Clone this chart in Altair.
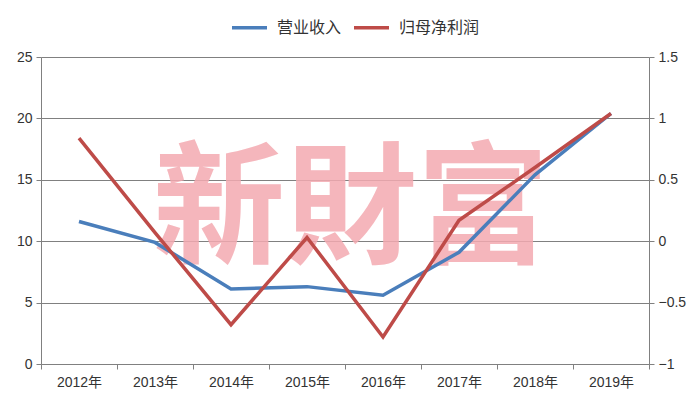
import altair as alt
import pandas as pd

years = ["2012年", "2013年", "2014年", "2015年", "2016年", "2017年", "2018年", "2019年"]
revenue = [11.6, 9.9, 6.1, 6.3, 5.6, 9.1, 15.4, 20.4]
profit = [0.84, 0.07, -0.68, 0.03, -0.78, 0.17, 0.60, 1.04]
series_names = ["营业收入", "归母净利润"]
left_ticks = [0, 5, 10, 15, 20, 25]
right_ticks = [-1, -0.5, 0, 0.5, 1, 1.5]
watermark = "新財富"

rev_df = pd.DataFrame({"year": years, "value": revenue, "series": series_names[0]})
pro_df = pd.DataFrame({"year": years, "value": profit, "series": series_names[1]})
wm_df = pd.DataFrame({"t": [watermark]})

FONT = "Liberation Sans, Noto Sans CJK SC"
GRAY = "#808080"
TXT = "#333333"

color = alt.Color(
    "series:N",
    scale=alt.Scale(domain=series_names, range=["#4a7ebb", "#be4b48"]),
    legend=alt.Legend(
        title=None, orient="none", direction="horizontal",
        legendX=189, legendY=-49,
        symbolType="stroke", symbolSize=1225, symbolStrokeWidth=3.5,
        labelFont="Noto Sans CJK SC", labelFontSize=16, labelColor=TXT,
        columnPadding=5, labelOffset=8,
    ),
)

x = alt.X(
    "year:N", sort=years, title=None,
    scale=alt.Scale(paddingInner=0, paddingOuter=0),
    axis=alt.Axis(
        tickBand="extent", labelAngle=0, domainColor=GRAY, tickColor=GRAY,
        tickSize=5, labelPadding=6, labelFont=FONT, labelFontSize=14,
        labelColor=TXT, grid=False,
    ),
)

wm = alt.Chart(wm_df).mark_text(
    font="Noto Sans CJK TC", fontSize=132, fontWeight="bold",
    color="#f4aab1", opacity=0.85, align="center", baseline="middle",
).encode(x=alt.value(310), y=alt.value(156), text="t:N")

left = alt.Chart(rev_df).mark_line(strokeWidth=3.5).encode(
    x=x,
    y=alt.Y(
        "value:Q", title=None,
        scale=alt.Scale(domain=[0, 25], nice=False),
        axis=alt.Axis(
            values=left_ticks, orient="left", grid=True, gridColor=GRAY,
            gridWidth=1.2, domainColor=GRAY, tickColor=GRAY, tickSize=5,
            labelPadding=4, labelFont=FONT, labelFontSize=14, labelColor=TXT,
            minExtent=28, maxExtent=28,
        ),
    ),
    color=color,
)

right = alt.Chart(pro_df).mark_line(strokeWidth=3.5).encode(
    x=x,
    y=alt.Y(
        "value:Q", title=None,
        scale=alt.Scale(domain=[-1, 1.5], nice=False),
        axis=alt.Axis(
            values=right_ticks, orient="right", grid=False, format="~g",
            domainColor=GRAY, tickColor=GRAY, tickSize=5, labelPadding=4,
            labelFont=FONT, labelFontSize=14, labelColor=TXT,
        ),
    ),
    color=color,
)

chart = (
    alt.layer(wm, left, right)
    .resolve_scale(y="independent")
    .properties(width=608, height=307, padding={"left": 5, "top": 0, "right": 5, "bottom": 5})
    .configure_view(stroke=None)
    .configure(background="white")
)

chart.save("out.html", embed_options={"renderer": "svg", "actions": False})
